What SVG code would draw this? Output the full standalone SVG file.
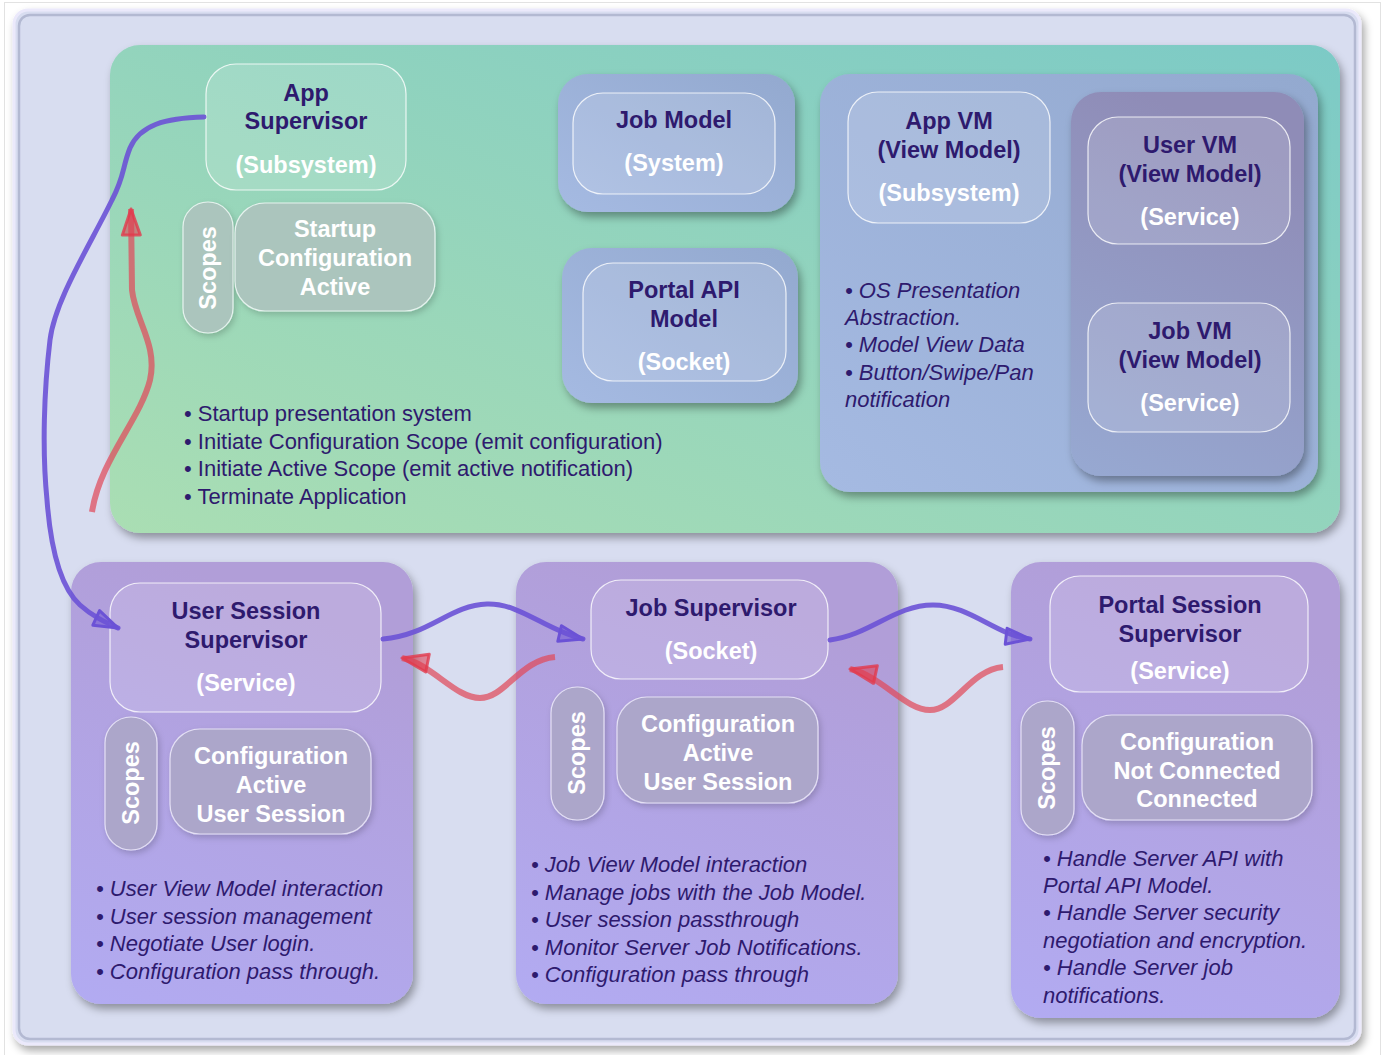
<svg xmlns="http://www.w3.org/2000/svg" width="1384" height="1055" viewBox="0 0 1384 1055">
<defs>
<linearGradient id="gGreen" x1="0" y1="1" x2="1" y2="0"><stop offset="0" stop-color="#aadeb3"/><stop offset="1" stop-color="#7ccac6"/></linearGradient>
<linearGradient id="gPurple" x1="0.3" y1="0" x2="0" y2="1"><stop offset="0" stop-color="#b19ed8"/><stop offset="1" stop-color="#b2abf2"/></linearGradient>
<linearGradient id="gBlue" x1="0" y1="1" x2="1" y2="0"><stop offset="0" stop-color="#a5bae2"/><stop offset="1" stop-color="#93a9cf"/></linearGradient>
<linearGradient id="gBlueDark" x1="0.3" y1="0" x2="0" y2="1"><stop offset="0" stop-color="#8f8cb7"/><stop offset="1" stop-color="#97a9d2"/></linearGradient>
<filter id="shadow" x="-10%" y="-10%" width="125%" height="125%"><feDropShadow dx="3" dy="5" stdDeviation="4" flood-color="#000" flood-opacity="0.35"/></filter>
<filter id="soft" x="-10%" y="-10%" width="125%" height="130%"><feDropShadow dx="2" dy="3" stdDeviation="3" flood-color="#000" flood-opacity="0.18"/></filter>
<marker id="arrBlue" markerUnits="userSpaceOnUse" markerWidth="30" markerHeight="22" viewBox="0 0 30 22" refX="27" refY="11" orient="auto"><path d="M3,3 L27,11 L3,19 z" fill="#6b52d6" fill-opacity="0.55" stroke="#6b52d6" stroke-width="3" stroke-linejoin="round"/></marker>
<marker id="arrRed" markerUnits="userSpaceOnUse" markerWidth="32" markerHeight="24" viewBox="0 0 32 24" refX="29" refY="12" orient="auto"><path d="M3,3 L29,12 L3,21 z" fill="#e23a4c" fill-opacity="0.55" stroke="#e23a4c" stroke-width="3" stroke-linejoin="round" stroke-opacity="0.8"/></marker>
</defs>
<style>
.node{fill:#ffffff;fill-opacity:0.14;stroke:#ffffff;stroke-opacity:0.8;stroke-width:1.2}
.scopeG{fill:#abc5bd;stroke:#e6f2ee;stroke-width:1.2}
.scopeP{fill:#aca6ca;stroke:#e4e0f4;stroke-width:1.2}
text{font-family:"Liberation Sans",Arial,Helvetica,sans-serif}
.t{font-size:23.5px;font-weight:bold;fill:#2e1a6e;text-anchor:middle}
.w{font-size:23.5px;font-weight:bold;fill:#ffffff;text-anchor:middle}
.b{font-size:22px;fill:#2e1a6e}
.i{font-size:22px;font-style:italic;fill:#2e1a6e}
.blue{fill:none;stroke:#6b52d6;stroke-width:5;stroke-opacity:0.9;stroke-linecap:round}
.red{fill:none;stroke:#e04a5a;stroke-width:6;stroke-opacity:0.72}
</style>
<rect x="0" y="0" width="1384" height="1055" fill="#ffffff"/>
<rect x="4.5" y="2.5" width="1376" height="1060" fill="none" stroke="#e2e2e2"/>
<g id="frame">
<rect x="14" y="10" width="1346" height="1034" rx="14" fill="#d8ddf0" stroke="#ebe9fb" stroke-width="3" filter="url(#shadow)"/>
<rect x="19" y="15" width="1336" height="1024" rx="11" fill="none" stroke="#b3b9d2" stroke-width="2.5"/>
</g>
<g id="app-layer">
<rect x="110" y="45" width="1230" height="488" rx="30" fill="url(#gGreen)" filter="url(#shadow)"/>
<g id="app-supervisor">
<rect class="node" x="206" y="64" width="200" height="126" rx="30"/>
<text class="t" x="306" y="101">App</text>
<text class="t" x="306" y="129">Supervisor</text>
<text class="w" x="306" y="173">(Subsystem)</text>
</g>
<g id="app-scopes">
<rect class="scopeG" x="183" y="202" width="50" height="131" rx="25" filter="url(#soft)"/>
<text class="w" transform="translate(216,268) rotate(-90)" x="0" y="0">Scopes</text>
<rect class="scopeG" x="235" y="203" width="200" height="108" rx="30" filter="url(#soft)"/>
<text class="w" x="335" y="237">Startup</text>
<text class="w" x="335" y="266">Configuration</text>
<text class="w" x="335" y="295">Active</text>
</g>
<g id="app-notes">
<text class="b" x="184" y="421">• Startup presentation system</text>
<text class="b" x="184" y="449">• Initiate Configuration Scope (emit configuration)</text>
<text class="b" x="184" y="476">• Initiate Active Scope (emit active notification)</text>
<text class="b" x="184" y="504">• Terminate Application</text>
</g>
<g id="job-model">
<rect x="558" y="74" width="237" height="138" rx="30" fill="url(#gBlue)" filter="url(#shadow)"/>
<rect class="node" x="573" y="93" width="202" height="101" rx="30"/>
<text class="t" x="674" y="128">Job Model</text>
<text class="w" x="674" y="171">(System)</text>
</g>
<g id="portal-api-model">
<rect x="562" y="248" width="236" height="155" rx="30" fill="url(#gBlue)" filter="url(#shadow)"/>
<rect class="node" x="583" y="263" width="203" height="118" rx="30"/>
<text class="t" x="684" y="298">Portal API</text>
<text class="t" x="684" y="327">Model</text>
<text class="w" x="684" y="370">(Socket)</text>
</g>
<g id="vm-layer">
<rect x="820" y="74" width="498" height="418" rx="30" fill="url(#gBlue)" filter="url(#shadow)"/>
<g id="app-vm">
<rect class="node" x="848" y="92" width="202" height="131" rx="30"/>
<text class="t" x="949" y="129">App VM</text>
<text class="t" x="949" y="158">(View Model)</text>
<text class="w" x="949" y="201">(Subsystem)</text>
</g>
<text class="i" x="845" y="298">• OS Presentation</text>
<text class="i" x="845" y="325">Abstraction.</text>
<text class="i" x="845" y="352">• Model View Data</text>
<text class="i" x="845" y="380">• Button/Swipe/Pan</text>
<text class="i" x="845" y="407">notification</text>
<rect x="1071" y="92" width="233" height="384" rx="30" fill="url(#gBlueDark)" filter="url(#shadow)"/>
<g id="user-vm">
<rect class="node" x="1088" y="117" width="202" height="127" rx="30"/>
<text class="t" x="1190" y="153">User VM</text>
<text class="t" x="1190" y="182">(View Model)</text>
<text class="w" x="1190" y="225">(Service)</text>
</g>
<g id="job-vm">
<rect class="node" x="1088" y="303" width="202" height="129" rx="30"/>
<text class="t" x="1190" y="339">Job VM</text>
<text class="t" x="1190" y="368">(View Model)</text>
<text class="w" x="1190" y="411">(Service)</text>
</g>
</g>
</g>
<g id="user-session-panel">
<rect x="71" y="562" width="342" height="442" rx="30" fill="url(#gPurple)" filter="url(#shadow)"/>
<g id="user-session-supervisor">
<rect class="node" x="110" y="583" width="271" height="129" rx="30"/>
<text class="t" x="246" y="619">User Session</text>
<text class="t" x="246" y="648">Supervisor</text>
<text class="w" x="246" y="691">(Service)</text>
</g>
<rect class="scopeP" x="105" y="717" width="52" height="133" rx="26" filter="url(#soft)"/>
<text class="w" transform="translate(139,783) rotate(-90)" x="0" y="0">Scopes</text>
<rect class="scopeP" x="170" y="729" width="201" height="105" rx="30" filter="url(#soft)"/>
<text class="w" x="271" y="764">Configuration</text>
<text class="w" x="271" y="793">Active</text>
<text class="w" x="271" y="822">User Session</text>
<text class="i" x="96" y="896">• User View Model interaction</text>
<text class="i" x="96" y="924">• User session management</text>
<text class="i" x="96" y="951">• Negotiate User login.</text>
<text class="i" x="96" y="979">• Configuration pass through.</text>
</g>
<g id="job-supervisor-panel">
<rect x="516" y="562" width="382" height="442" rx="30" fill="url(#gPurple)" filter="url(#shadow)"/>
<g id="job-supervisor">
<rect class="node" x="591" y="580" width="237" height="99" rx="30"/>
<text class="t" x="711" y="616">Job Supervisor</text>
<text class="w" x="711" y="659">(Socket)</text>
</g>
<rect class="scopeP" x="551" y="687" width="53" height="133" rx="26" filter="url(#soft)"/>
<text class="w" transform="translate(585,753) rotate(-90)" x="0" y="0">Scopes</text>
<rect class="scopeP" x="617" y="697" width="201" height="106" rx="30" filter="url(#soft)"/>
<text class="w" x="718" y="732">Configuration</text>
<text class="w" x="718" y="761">Active</text>
<text class="w" x="718" y="790">User Session</text>
<text class="i" x="531" y="872">• Job View Model interaction</text>
<text class="i" x="531" y="900">• Manage jobs with the Job Model.</text>
<text class="i" x="531" y="927">• User session passthrough</text>
<text class="i" x="531" y="955">• Monitor Server Job Notifications.</text>
<text class="i" x="531" y="982">• Configuration pass through</text>
</g>
<g id="portal-session-panel">
<rect x="1011" y="562" width="329" height="456" rx="30" fill="url(#gPurple)" filter="url(#shadow)"/>
<g id="portal-session-supervisor">
<rect class="node" x="1050" y="576" width="258" height="116" rx="30"/>
<text class="t" x="1180" y="613">Portal Session</text>
<text class="t" x="1180" y="642">Supervisor</text>
<text class="w" x="1180" y="679">(Service)</text>
</g>
<rect class="scopeP" x="1021" y="701" width="53" height="134" rx="26" filter="url(#soft)"/>
<text class="w" transform="translate(1055,768) rotate(-90)" x="0" y="0">Scopes</text>
<rect class="scopeP" x="1082" y="715" width="230" height="105" rx="30" filter="url(#soft)"/>
<text class="w" x="1197" y="750">Configuration</text>
<text class="w" x="1197" y="779">Not Connected</text>
<text class="w" x="1197" y="807">Connected</text>
<text class="i" x="1043" y="866">• Handle Server API with</text>
<text class="i" x="1043" y="893">Portal API Model.</text>
<text class="i" x="1043" y="920">• Handle Server security</text>
<text class="i" x="1043" y="948">negotiation and encryption.</text>
<text class="i" x="1043" y="975">• Handle Server job</text>
<text class="i" x="1043" y="1003">notifications.</text>
</g>
<g id="connectors">
<path class="blue" d="M204,117 C165,118 140,125 130,148 C122,168 125,175 112,200 C90,245 55,300 50,340 C44,390 42,450 47,500 C50,540 58,585 80,605 C92,616 105,622 118,628" marker-end="url(#arrBlue)"/>
<path class="red" d="M92,512 C100,460 140,420 150,380 C158,345 135,320 132,290 L131,209" marker-end="url(#arrRed)"/>
<path class="blue" d="M383,639 C430,635 450,605 487,604 C520,603 545,630 583,639" marker-end="url(#arrBlue)"/>
<path class="red" d="M555,657 C520,660 505,698 480,698 C455,698 432,664 402,658" marker-end="url(#arrRed)"/>
<path class="blue" d="M830,640 C870,635 895,605 933,605 C970,605 995,635 1030,639" marker-end="url(#arrBlue)"/>
<path class="red" d="M1003,667 C970,670 955,710 930,710 C905,710 882,676 850,669" marker-end="url(#arrRed)"/>
</g>
</svg>
